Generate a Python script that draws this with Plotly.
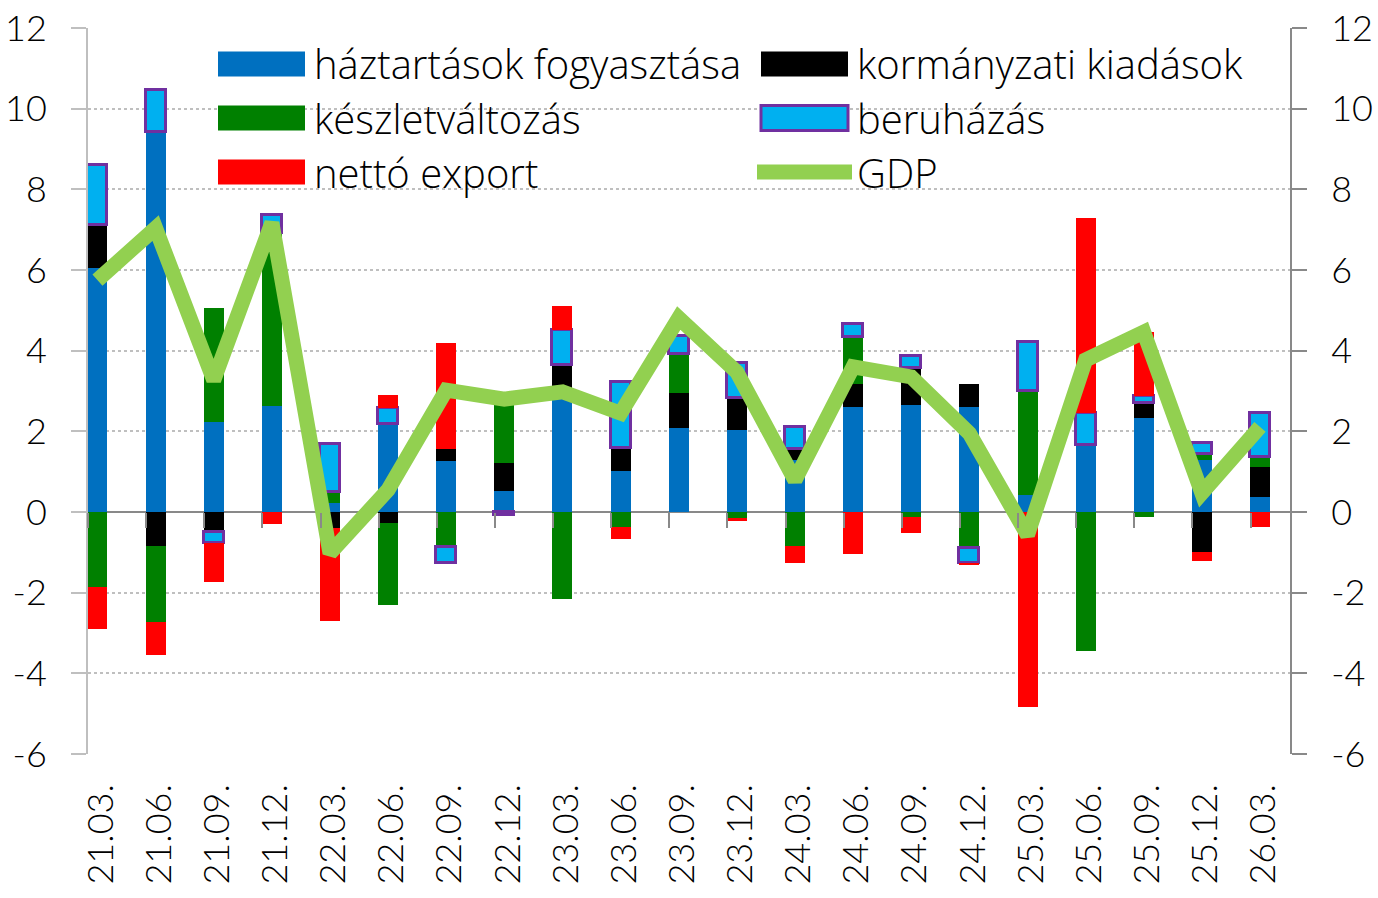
import plotly.graph_objects as go

categories = ['21.03.', '21.06.', '21.09.', '21.12.', '22.03.', '22.06.', '22.09.',
              '22.12.', '23.03.', '23.06.', '23.09.', '23.12.', '24.03.', '24.06.',
              '24.09.', '24.12.', '25.03.', '25.06.', '25.09.', '25.12.', '26.03.']

haztartasok = [6.05, 9.42, 2.23, 2.63, 0.22, 2.18, 1.26, 0.52, 2.85, 1.02, 2.08,
               2.03, 1.30, 2.60, 2.65, 2.60, 0.42, 1.66, 2.33, 1.29, 0.37]
kormanyzati = [1.07, -0.84, -0.50, 0.00, -0.40, -0.27, 0.30, 0.69, 0.80, 0.57, 0.87,
               0.80, 0.26, 0.57, 0.92, 0.57, 0.00, 0.00, 0.37, -0.99, 0.75]
keszlet = [-1.86, -1.88, 2.83, 4.29, 0.28, -2.03, -0.87, 1.45, -2.16, -0.37, 0.97,
           -0.15, -0.84, 1.17, -0.12, -0.89, 2.58, -3.45, -0.12, 0.15, 0.24]
beruhazas = [1.48, 1.05, -0.27, 0.44, 1.19, 0.40, -0.39, -0.08, 0.86, 1.63, 0.45,
             0.86, 0.55, 0.32, 0.30, -0.37, 1.22, 0.79, 0.18, 0.27, 1.09]
netto_export = [-1.04, -0.83, -0.97, -0.30, -2.30, 0.32, 2.63, 0.00, 0.59, -0.30, 0.00,
                -0.07, -0.42, -1.04, -0.40, -0.05, -4.84, 4.84, 1.58, -0.22, -0.37]
gdp = [5.75, 7.04, 3.27, 7.17, -1.02, 0.55, 3.02, 2.80, 2.98, 2.45, 4.81,
       3.47, 0.79, 3.60, 3.35, 1.95, -0.57, 3.77, 4.46, 0.47, 2.11]

y_ticks = [-6, -4, -2, 0, 2, 4, 6, 8, 10, 12]
y_ticktext = [str(v) for v in y_ticks]

FONT = "Lato"
LEG_FONT = "Open Sans"
W, H = 1378, 898
ML, MR, MT, MB = 88, 88, 28, 144
pos = list(range(len(categories)))
BAR_W = 0.344
X_RANGE = [-0.163, len(categories) - 1 + 0.516]
Y_RANGE = [-6, 12]

fig = go.Figure()

series = [
    ("háztartások fogyasztása", haztartasok, "#0070C0", None),
    ("kormányzati kiadások", kormanyzati, "#000000", None),
    ("készletváltozás", keszlet, "#008000", None),
    ("beruházás", beruhazas, "#00B0F0", "#7030A0"),
    ("nettó export", netto_export, "#FF0000", None),
]
for name, vals, col, border in series:
    fig.add_trace(go.Bar(
        x=pos, y=vals, name=name, width=BAR_W,
        marker=dict(color=col,
                    line=dict(color=border if border else col,
                              width=3 if border else 0)),
        showlegend=False, hoverinfo="skip"))

fig.add_trace(go.Scatter(
    x=pos, y=gdp, name="GDP", mode="lines",
    line=dict(color="#92D050", width=15),
    showlegend=False, hoverinfo="skip"))

# invisible helper trace for the secondary axes (right y axis, zero-line ticks)
fig.add_trace(go.Scatter(x=X_RANGE, y=Y_RANGE, xaxis="x2", yaxis="y2", mode="markers",
                         marker=dict(opacity=0), showlegend=False, hoverinfo="skip"))

zero_pos = (0 - Y_RANGE[0]) / (Y_RANGE[1] - Y_RANGE[0])
tick_font = dict(family=FONT, size=36, color="#000000", weight=300)

fig.update_layout(
    width=W, height=H,
    margin=dict(l=ML, r=MR, t=MT, b=MB, autoexpand=False),
    paper_bgcolor="white", plot_bgcolor="white",
    barmode="relative", bargap=0,
    font=dict(family=FONT, size=36, color="#000000"),
    xaxis=dict(range=X_RANGE, tickvals=[p + 0.06 for p in pos], ticktext=categories,
               tickangle=-90, ticks="", showline=False, showgrid=False, zeroline=False,
               tickfont=tick_font, ticklabelstandoff=22),
    xaxis2=dict(range=X_RANGE, overlaying="x", anchor="free", position=zero_pos,
                side="bottom", tickvals=[p - 0.163 for p in pos], ticks="outside",
                ticklen=15, tickwidth=2, tickcolor="#898989", showticklabels=False,
                showline=False, showgrid=False, zeroline=False),
    yaxis=dict(range=Y_RANGE, tickvals=y_ticks, ticktext=y_ticktext, ticks="outside",
               ticklen=15, tickwidth=2,
               tickcolor="#BFBFBF", showline=True, linecolor="#BFBFBF", linewidth=2,
               showgrid=True, gridcolor="#BFBFBF", griddash="dot", gridwidth=2,
               zeroline=True, zerolinecolor="#898989", zerolinewidth=2,
               tickfont=tick_font, ticklabelstandoff=17),
    yaxis2=dict(range=Y_RANGE, overlaying="y", side="right", anchor="x2",
                tickvals=y_ticks, ticktext=y_ticktext, ticks="outside", ticklen=15,
                tickwidth=2, tickcolor="#898989", showline=True, linecolor="#898989",
                linewidth=2, showgrid=False, zeroline=False, tickfont=tick_font,
                ticklabelstandoff=17),
)

# custom legend (pixel layout converted to paper coordinates)
pw, ph = W - ML - MR, H - MT - MB
def px(x):
    return (x - ML) / pw
def py(y):
    return (H - MB - y) / ph

legend_items = [
    ("háztartások fogyasztása", 218, 64, "#0070C0", None, "bar"),
    ("készletváltozás", 218, 118, "#008000", None, "bar"),
    ("nettó export", 218, 172, "#FF0000", None, "bar"),
    ("kormányzati kiadások", 761, 64, "#000000", None, "bar"),
    ("beruházás", 761, 118, "#00B0F0", "#7030A0", "bar"),
    ("GDP", 761, 172, "#92D050", None, "line"),
]
shapes = []
annotations = []
for text, x0, yc, col, border, kind in legend_items:
    if kind == "bar":
        shapes.append(dict(type="rect", xref="paper", yref="paper",
                           x0=px(x0), x1=px(x0 + 87), y0=py(yc + 12.5), y1=py(yc - 12.5),
                           fillcolor=col,
                           line=dict(color=border if border else col,
                                     width=3 if border else 0)))
    else:
        shapes.append(dict(type="line", xref="paper", yref="paper",
                           x0=px(x0 - 4), x1=px(x0 + 91), y0=py(yc), y1=py(yc),
                           line=dict(color=col, width=15)))
    annotations.append(dict(text=text, xref="paper", yref="paper",
                            x=px(x0 + 94), y=py(yc), xanchor="left", yanchor="middle",
                            showarrow=False,
                            font=dict(family=LEG_FONT, size=40, color="#000000", weight=300)))
fig.update_layout(shapes=shapes, annotations=annotations)

fig.write_html("out.html")
